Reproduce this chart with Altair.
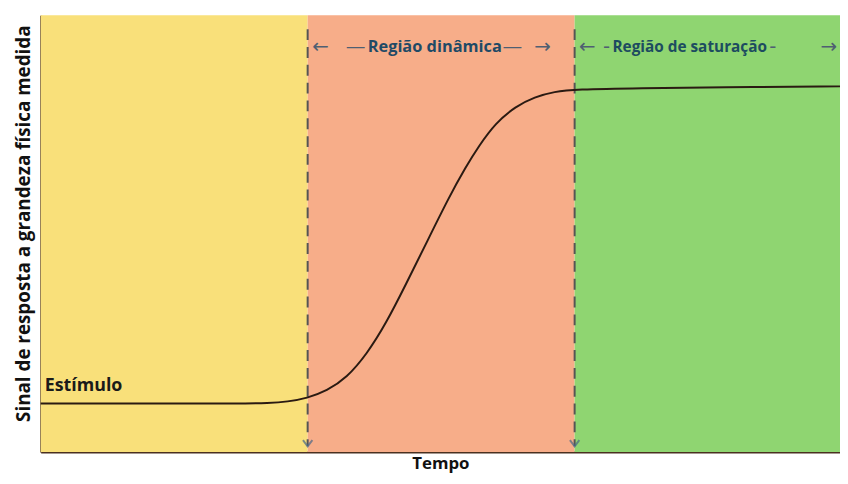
import altair as alt
import pandas as pd

# ---- data ----
region_names = ["Estímulo", "Região dinâmica", "Região de saturação"]
region_start = [0, 33.4, 66.8]
region_end = [33.4, 66.8, 100]
region_colors = ["#F9E07A", "#F7AD89", "#8FD571"]

boundaries = [33.4, 66.8]

curve_t = [0, 15, 25, 28.5, 30.9, 33.3, 35.8, 38.3, 40.8, 43.2, 45.7, 48.4, 51.1,
           53.2, 54.8, 56.9, 59.4, 61.8, 64.3, 66.8, 75, 85, 100]
curve_v = [11.1, 11.1, 11.1, 11.2, 11.5, 12.3, 14.0, 17.0, 22.4, 29.4, 38.4, 48.4, 58.4,
           65.3, 70.0, 75.3, 79.1, 81.3, 82.5, 83.0, 83.3, 83.5, 83.7]

arrow_text = ["←", "—", "—", "→", "←", "-", "-", "→"]
arrow_t = [35.0, 39.4, 59.0, 62.8, 68.4, 70.8, 91.6, 98.6]

header_text = ["Região dinâmica", "Região de saturação"]
header_t = [49.3, 81.2]

# ---- chart ----
FONT = "Open Sans"
xs = alt.Scale(domain=[0, 100], nice=False, zero=False)
ys = alt.Scale(domain=[0, 100], nice=False, zero=False)

bands_df = pd.DataFrame({"name": region_names, "x0": region_start, "x1": region_end,
                         "color": region_colors})
bands = alt.Chart(bands_df).mark_rect().encode(
    x=alt.X("x0:Q", scale=xs, title="Tempo"),
    x2="x1:Q",
    y=alt.value(0),
    y2=alt.value(441),
    color=alt.Color("color:N", scale=None),
)

bd_df = pd.DataFrame({"t": boundaries, "top": [96.8, 96.8], "bot": [1.3, 1.3]})
dashes = alt.Chart(bd_df).mark_rule(color="#555555", strokeWidth=2, strokeDash=[11, 7]).encode(
    x=alt.X("t:Q", scale=xs), y=alt.Y("top:Q", scale=ys), y2="bot:Q")
heads = alt.Chart(bd_df).mark_point(
    shape="M-1,-1.3L0,0L1,-1.3", filled=False, color="#4a6888", strokeWidth=2, size=90
).encode(x=alt.X("t:Q", scale=xs), y=alt.Y("bot:Q", scale=ys))

curve_df = pd.DataFrame({"t": curve_t, "v": curve_v})
curve = alt.Chart(curve_df).mark_line(color="#2a1a12", strokeWidth=2, interpolate="basis").encode(
    x=alt.X("t:Q", scale=xs),
    y=alt.Y("v:Q", scale=ys, title="Sinal de resposta a grandeza física medida"),
)

arrows_df = pd.DataFrame({"s": arrow_text, "t": arrow_t, "v": [92.6] * len(arrow_t)})
arrows = alt.Chart(arrows_df).mark_text(font="DejaVu Sans", fontSize=20, color="#4f5f72").encode(
    x=alt.X("t:Q", scale=xs), y=alt.Y("v:Q", scale=ys), text="s:N")

head1_df = pd.DataFrame({"s": [header_text[0]], "t": [header_t[0]], "v": [92.6]})
head1 = alt.Chart(head1_df).mark_text(font=FONT, fontSize=16.5, fontWeight="bold",
                                      color="#1f4a66").encode(
    x=alt.X("t:Q", scale=xs), y=alt.Y("v:Q", scale=ys), text="s:N")
head2_df = pd.DataFrame({"s": [header_text[1]], "t": [header_t[1]], "v": [92.6]})
head2 = alt.Chart(head2_df).mark_text(font=FONT, fontSize=15.5, fontWeight="bold",
                                      color="#1d4c60").encode(
    x=alt.X("t:Q", scale=xs), y=alt.Y("v:Q", scale=ys), text="s:N")

stim_df = pd.DataFrame({"s": [region_names[0]], "t": [0.5], "v": [15.2]})
stim = alt.Chart(stim_df).mark_text(font=FONT, fontSize=18, fontWeight="bold", align="left",
                                    color="#1a1a1a").encode(
    x=alt.X("t:Q", scale=xs), y=alt.Y("v:Q", scale=ys), text="s:N")

chart = alt.layer(bands, dashes, heads, curve, arrows, head1, head2, stim).properties(
    width=807, height=441,
    autosize=alt.AutoSizeParams(type="none"),
    padding={"left": 33, "top": 5, "right": 0, "bottom": 22},
).configure_view(stroke=None).configure_axis(
    domainColor="#4a3020", domainWidth=2, ticks=False, labels=False, grid=False,
    titleFont=FONT, titleFontWeight="bold", titleColor="#111111",
).configure_axisX(titleFontSize=17, titlePadding=4).configure_axisY(
    titleFontSize=19, titlePadding=7, titleY=210)

chart.save("out.html", embed_options={"renderer": "svg", "actions": False})
